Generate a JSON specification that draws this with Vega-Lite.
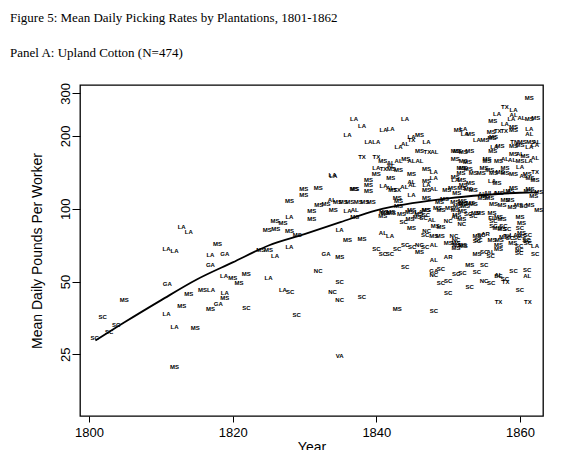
{
  "$schema": "https://vega.github.io/schema/vega-lite/v6.json",
  "autosize": "none",
  "width": 463,
  "height": 331,
  "padding": {"left": 80, "top": 85, "right": 27, "bottom": 34},
  "background": "white",
  "title": {
    "text": ["Figure 5: Mean Daily Picking Rates by Plantations, 1801-1862", "Panel A: Upland Cotton (N=474)"],
    "anchor": "start",
    "frame": "group",
    "dx": -70,
    "offset": 13,
    "baseline": "alphabetic",
    "lineHeight": 35,
    "font": "Liberation Serif",
    "fontSize": 13,
    "fontWeight": "normal",
    "color": "black"
  },
  "config": {
    "view": {"stroke": "black", "strokeWidth": 1.3},
    "axis": {
      "domain": false,
      "grid": false,
      "tickColor": "black",
      "tickSize": 7,
      "labelFont": "Liberation Sans",
      "labelFontSize": 13,
      "labelColor": "black",
      "titleFont": "Liberation Sans",
      "titleFontSize": 14,
      "titleFontWeight": "normal",
      "titleColor": "black"
    }
  },
  "datasets": {
    "pts": [
      {"year": 1800.8, "rate": 29.1, "state": "SC"},
      {"year": 1801.9, "rate": 35.8, "state": "SC"},
      {"year": 1802.8, "rate": 31, "state": "SC"},
      {"year": 1803.8, "rate": 33.1, "state": "SC"},
      {"year": 1804.9, "rate": 42, "state": "MS"},
      {"year": 1810.8, "rate": 68.4, "state": "LA"},
      {"year": 1811.9, "rate": 66.7, "state": "LA"},
      {"year": 1812.9, "rate": 84.2, "state": "LA"},
      {"year": 1813.9, "rate": 80.5, "state": "LA"},
      {"year": 1810.9, "rate": 48.7, "state": "GA"},
      {"year": 1810.8, "rate": 36.6, "state": "LA"},
      {"year": 1811.9, "rate": 32.3, "state": "LA"},
      {"year": 1811.9, "rate": 22.2, "state": "MS"},
      {"year": 1812.9, "rate": 39.7, "state": "MS"},
      {"year": 1813.9, "rate": 44.3, "state": "MS"},
      {"year": 1814.8, "rate": 32, "state": "MS"},
      {"year": 1815.8, "rate": 46.3, "state": "MS"},
      {"year": 1817.0, "rate": 46.3, "state": "LA"},
      {"year": 1816.9, "rate": 38.5, "state": "MS"},
      {"year": 1818.0, "rate": 40.2, "state": "GA"},
      {"year": 1818.9, "rate": 44.7, "state": "LA"},
      {"year": 1818.9, "rate": 42.6, "state": "MS"},
      {"year": 1817.9, "rate": 71.3, "state": "MS"},
      {"year": 1816.9, "rate": 64.4, "state": "LA"},
      {"year": 1818.9, "rate": 64.8, "state": "GA"},
      {"year": 1816.9, "rate": 58.4, "state": "GA"},
      {"year": 1818.8, "rate": 52.6, "state": "LA"},
      {"year": 1820.0, "rate": 51.5, "state": "MS"},
      {"year": 1820.9, "rate": 49.1, "state": "MS"},
      {"year": 1821.9, "rate": 53.5, "state": "MS"},
      {"year": 1821.9, "rate": 39, "state": "SC"},
      {"year": 1823.9, "rate": 67.3, "state": "MS"},
      {"year": 1825.0, "rate": 67.8, "state": "MS"},
      {"year": 1825.9, "rate": 64, "state": "LA"},
      {"year": 1825.0, "rate": 51.8, "state": "LA"},
      {"year": 1827.0, "rate": 46, "state": "LA"},
      {"year": 1828.0, "rate": 45.1, "state": "SC"},
      {"year": 1828.9, "rate": 36.2, "state": "SC"},
      {"year": 1824.8, "rate": 81.5, "state": "MS"},
      {"year": 1826.0, "rate": 82.8, "state": "MS"},
      {"year": 1825.9, "rate": 88.8, "state": "MS"},
      {"year": 1827.0, "rate": 87.5, "state": "MS"},
      {"year": 1827.9, "rate": 80.7, "state": "MS"},
      {"year": 1829.0, "rate": 78.2, "state": "MS"},
      {"year": 1827.9, "rate": 92.3, "state": "LA"},
      {"year": 1827.9, "rate": 69.3, "state": "LA"},
      {"year": 1827.9, "rate": 107.2, "state": "MS"},
      {"year": 1829.9, "rate": 120.2, "state": "MS"},
      {"year": 1829.9, "rate": 113.8, "state": "MS"},
      {"year": 1831.9, "rate": 121.4, "state": "MS"},
      {"year": 1832.0, "rate": 104, "state": "MS"},
      {"year": 1833.0, "rate": 105, "state": "MS"},
      {"year": 1831.0, "rate": 97.7, "state": "MS"},
      {"year": 1831.0, "rate": 91.1, "state": "MS"},
      {"year": 1834.0, "rate": 136.5, "state": "LA"},
      {"year": 1837.0, "rate": 120.2, "state": "MS"},
      {"year": 1833.0, "rate": 65.2, "state": "GA"},
      {"year": 1834.9, "rate": 63, "state": "MS"},
      {"year": 1831.9, "rate": 55.1, "state": "NC"},
      {"year": 1834.9, "rate": 49.6, "state": "SC"},
      {"year": 1833.9, "rate": 45.1, "state": "NC"},
      {"year": 1834.9, "rate": 41.8, "state": "NC"},
      {"year": 1838.0, "rate": 43.2, "state": "SC"},
      {"year": 1834.9, "rate": 24.7, "state": "VA"},
      {"year": 1834.9, "rate": 81.5, "state": "LA"},
      {"year": 1836.0, "rate": 74.1, "state": "MS"},
      {"year": 1838.0, "rate": 75.3, "state": "MS"},
      {"year": 1836.0, "rate": 97.7, "state": "LA"},
      {"year": 1837.0, "rate": 99.3, "state": "AL"},
      {"year": 1834.0, "rate": 99.3, "state": "MS"},
      {"year": 1837.0, "rate": 92.3, "state": "MS"},
      {"year": 1840.0, "rate": 68.3, "state": "SC"},
      {"year": 1840.9, "rate": 65.1, "state": "SC"},
      {"year": 1833.8, "rate": 108.6, "state": "AL"},
      {"year": 1834.6, "rate": 107, "state": "MS"},
      {"year": 1835.4, "rate": 107, "state": "MS"},
      {"year": 1836.3, "rate": 107, "state": "MS"},
      {"year": 1837.5, "rate": 107, "state": "MS"},
      {"year": 1838.4, "rate": 107, "state": "MS"},
      {"year": 1839.3, "rate": 107, "state": "MS"},
      {"year": 1836.9, "rate": 236, "state": "LA"},
      {"year": 1844.0, "rate": 234, "state": "LA"},
      {"year": 1838.0, "rate": 219, "state": "LA"},
      {"year": 1841.0, "rate": 212.6, "state": "LA"},
      {"year": 1842.0, "rate": 214, "state": "LA"},
      {"year": 1836.0, "rate": 201, "state": "LA"},
      {"year": 1844.9, "rate": 199, "state": "LA"},
      {"year": 1846.0, "rate": 202, "state": "MS"},
      {"year": 1844.9, "rate": 192, "state": "TX"},
      {"year": 1847.0, "rate": 189, "state": "LA"},
      {"year": 1838.9, "rate": 189, "state": "LA"},
      {"year": 1840.0, "rate": 189, "state": "LA"},
      {"year": 1843.1, "rate": 180, "state": "LA"},
      {"year": 1844.0, "rate": 185, "state": "AL"},
      {"year": 1846.0, "rate": 173, "state": "MS"},
      {"year": 1847.1, "rate": 171, "state": "TX"},
      {"year": 1848.1, "rate": 172, "state": "AL"},
      {"year": 1838.0, "rate": 164, "state": "TX"},
      {"year": 1840.0, "rate": 164, "state": "TX"},
      {"year": 1840.9, "rate": 157.6, "state": "MS"},
      {"year": 1842.0, "rate": 155, "state": "AL"},
      {"year": 1843.1, "rate": 157.6, "state": "AL"},
      {"year": 1844.1, "rate": 160, "state": "MS"},
      {"year": 1844.9, "rate": 157.6, "state": "AL"},
      {"year": 1846.0, "rate": 157.6, "state": "AL"},
      {"year": 1840.0, "rate": 148, "state": "LA"},
      {"year": 1841.0, "rate": 145.5, "state": "TX"},
      {"year": 1842.0, "rate": 150, "state": "AL"},
      {"year": 1843.1, "rate": 145, "state": "MS"},
      {"year": 1840.0, "rate": 138.7, "state": "MS"},
      {"year": 1842.0, "rate": 134.4, "state": "MS"},
      {"year": 1844.9, "rate": 139.7, "state": "MS"},
      {"year": 1847.0, "rate": 145.5, "state": "MS"},
      {"year": 1848.0, "rate": 142.5, "state": "LA"},
      {"year": 1833.9, "rate": 137.4, "state": "LA"},
      {"year": 1838.9, "rate": 132, "state": "MS"},
      {"year": 1838.9, "rate": 126, "state": "MS"},
      {"year": 1836.9, "rate": 120.2, "state": "MS"},
      {"year": 1838.9, "rate": 118.3, "state": "MS"},
      {"year": 1844.9, "rate": 113.8, "state": "LA"},
      {"year": 1844.9, "rate": 129.4, "state": "AL"},
      {"year": 1847.0, "rate": 130, "state": "MS"},
      {"year": 1847.0, "rate": 126, "state": "LA"},
      {"year": 1847.0, "rate": 99.3, "state": "MS"},
      {"year": 1844.9, "rate": 99.3, "state": "MS"},
      {"year": 1845.9, "rate": 97.2, "state": "LA"},
      {"year": 1841.0, "rate": 97.2, "state": "MS"},
      {"year": 1842.0, "rate": 97.2, "state": "MS"},
      {"year": 1843.1, "rate": 107.5, "state": "MS"},
      {"year": 1843.1, "rate": 102.5, "state": "MS"},
      {"year": 1842.1, "rate": 146, "state": "MS"},
      {"year": 1851.8, "rate": 148, "state": "MS"},
      {"year": 1851.8, "rate": 141, "state": "MS"},
      {"year": 1848.0, "rate": 134, "state": "LA"},
      {"year": 1851.0, "rate": 135, "state": "MS"},
      {"year": 1851.0, "rate": 131, "state": "LA"},
      {"year": 1851.9, "rate": 131, "state": "MS"},
      {"year": 1845.0, "rate": 125.3, "state": "AL"},
      {"year": 1841.9, "rate": 122, "state": "AL"},
      {"year": 1842.3, "rate": 120, "state": "MS"},
      {"year": 1842.9, "rate": 120, "state": "TX"},
      {"year": 1843.9, "rate": 123, "state": "AL"},
      {"year": 1841.0, "rate": 124, "state": "LA"},
      {"year": 1847.0, "rate": 120, "state": "MS"},
      {"year": 1848.0, "rate": 121, "state": "AL"},
      {"year": 1849.8, "rate": 120, "state": "MS"},
      {"year": 1850.6, "rate": 122, "state": "MS"},
      {"year": 1851.9, "rate": 122, "state": "MS"},
      {"year": 1851.2, "rate": 116, "state": "MS"},
      {"year": 1847.0, "rate": 111, "state": "MS"},
      {"year": 1842.9, "rate": 111, "state": "MS"},
      {"year": 1849.5, "rate": 110, "state": "MS"},
      {"year": 1848.8, "rate": 107, "state": "MS"},
      {"year": 1850.9, "rate": 107, "state": "MS"},
      {"year": 1852.0, "rate": 108, "state": "MS"},
      {"year": 1852.0, "rate": 105, "state": "MS"},
      {"year": 1841.2, "rate": 96, "state": "MS"},
      {"year": 1842.1, "rate": 96, "state": "MS"},
      {"year": 1840.9, "rate": 93, "state": "MS"},
      {"year": 1843.5, "rate": 95, "state": "MS"},
      {"year": 1844.6, "rate": 97, "state": "MS"},
      {"year": 1845.9, "rate": 95, "state": "MS"},
      {"year": 1846.9, "rate": 99, "state": "MS"},
      {"year": 1846.9, "rate": 94, "state": "SC"},
      {"year": 1848.5, "rate": 101, "state": "MS"},
      {"year": 1849.0, "rate": 99, "state": "MS"},
      {"year": 1850.2, "rate": 101, "state": "MS"},
      {"year": 1851.3, "rate": 103, "state": "MS"},
      {"year": 1851.0, "rate": 99, "state": "MS"},
      {"year": 1852.0, "rate": 98, "state": "MS"},
      {"year": 1844.7, "rate": 91.1, "state": "MS"},
      {"year": 1845.7, "rate": 92.3, "state": "MS"},
      {"year": 1846.6, "rate": 91.8, "state": "SC"},
      {"year": 1847.7, "rate": 90, "state": "AL"},
      {"year": 1851.2, "rate": 94, "state": "MS"},
      {"year": 1851.0, "rate": 92.3, "state": "AL"},
      {"year": 1850.0, "rate": 89, "state": "NC"},
      {"year": 1851.9, "rate": 91, "state": "MS"},
      {"year": 1843.8, "rate": 88.3, "state": "SC"},
      {"year": 1844.9, "rate": 83.4, "state": "MS"},
      {"year": 1847.0, "rate": 81, "state": "NC"},
      {"year": 1846.8, "rate": 78, "state": "SC"},
      {"year": 1848.2, "rate": 85, "state": "MS"},
      {"year": 1849.0, "rate": 84, "state": "MS"},
      {"year": 1848.0, "rate": 77, "state": "MS"},
      {"year": 1848.9, "rate": 77, "state": "MS"},
      {"year": 1850.8, "rate": 77, "state": "NC"},
      {"year": 1851.1, "rate": 74, "state": "NC"},
      {"year": 1851.2, "rate": 71, "state": "MS"},
      {"year": 1840.9, "rate": 79.5, "state": "AL"},
      {"year": 1841.9, "rate": 77, "state": "LA"},
      {"year": 1844.0, "rate": 71, "state": "SC"},
      {"year": 1845.0, "rate": 69.6, "state": "SC"},
      {"year": 1846.0, "rate": 71, "state": "NC"},
      {"year": 1846.8, "rate": 69.6, "state": "SC"},
      {"year": 1848.0, "rate": 70.5, "state": "AL"},
      {"year": 1846.0, "rate": 66, "state": "MS"},
      {"year": 1841.9, "rate": 65, "state": "SC"},
      {"year": 1842.9, "rate": 68, "state": "SC"},
      {"year": 1850.0, "rate": 72, "state": "MS"},
      {"year": 1851.1, "rate": 72, "state": "MS"},
      {"year": 1852.0, "rate": 70.5, "state": "MS"},
      {"year": 1851.1, "rate": 69, "state": "MS"},
      {"year": 1854.0, "rate": 73.4, "state": "SC"},
      {"year": 1857.0, "rate": 70.5, "state": "MS"},
      {"year": 1857.0, "rate": 68, "state": "MS"},
      {"year": 1854.0, "rate": 65, "state": "MS"},
      {"year": 1855.0, "rate": 66, "state": "SC"},
      {"year": 1855.9, "rate": 66, "state": "AL"},
      {"year": 1855.9, "rate": 63.6, "state": "SC"},
      {"year": 1859.0, "rate": 72.3, "state": "MS"},
      {"year": 1859.9, "rate": 70, "state": "SC"},
      {"year": 1859.9, "rate": 67.3, "state": "NC"},
      {"year": 1859.9, "rate": 65.5, "state": "SC"},
      {"year": 1861.0, "rate": 73.4, "state": "SC"},
      {"year": 1862.1, "rate": 70, "state": "LA"},
      {"year": 1862.1, "rate": 65.3, "state": "SC"},
      {"year": 1848.0, "rate": 61.6, "state": "AL"},
      {"year": 1850.0, "rate": 63, "state": "AR"},
      {"year": 1844.0, "rate": 57.3, "state": "SC"},
      {"year": 1853.0, "rate": 58.7, "state": "MS"},
      {"year": 1855.0, "rate": 58.7, "state": "SC"},
      {"year": 1848.0, "rate": 55.1, "state": "GA"},
      {"year": 1849.0, "rate": 56.4, "state": "SC"},
      {"year": 1848.0, "rate": 53, "state": "NC"},
      {"year": 1851.1, "rate": 53.8, "state": "SC"},
      {"year": 1852.0, "rate": 54.3, "state": "SC"},
      {"year": 1854.0, "rate": 54.8, "state": "SC"},
      {"year": 1857.0, "rate": 53.4, "state": "AL"},
      {"year": 1857.0, "rate": 52.6, "state": "SC"},
      {"year": 1857.9, "rate": 51.3, "state": "SC"},
      {"year": 1858.0, "rate": 49.7, "state": "TX"},
      {"year": 1859.1, "rate": 55.1, "state": "SC"},
      {"year": 1861.0, "rate": 56, "state": "SC"},
      {"year": 1861.0, "rate": 52.6, "state": "AL"},
      {"year": 1849.0, "rate": 49.4, "state": "SC"},
      {"year": 1850.0, "rate": 50.2, "state": "SC"},
      {"year": 1853.0, "rate": 47.6, "state": "SC"},
      {"year": 1855.0, "rate": 50.2, "state": "NC"},
      {"year": 1856.0, "rate": 49.4, "state": "SC"},
      {"year": 1860.0, "rate": 46.3, "state": "SC"},
      {"year": 1850.0, "rate": 44.9, "state": "SC"},
      {"year": 1857.0, "rate": 41, "state": "TX"},
      {"year": 1861.1, "rate": 41.2, "state": "TX"},
      {"year": 1842.9, "rate": 38.6, "state": "MS"},
      {"year": 1848.0, "rate": 37.6, "state": "SC"},
      {"year": 1861.3, "rate": 287, "state": "MS"},
      {"year": 1857.9, "rate": 263, "state": "TX"},
      {"year": 1859.1, "rate": 256, "state": "LA"},
      {"year": 1856.8, "rate": 247, "state": "LA"},
      {"year": 1859.1, "rate": 245, "state": "AL"},
      {"year": 1858.8, "rate": 235, "state": "LA"},
      {"year": 1860.2, "rate": 237, "state": "AL"},
      {"year": 1861.3, "rate": 234, "state": "MS"},
      {"year": 1862.2, "rate": 237, "state": "MS"},
      {"year": 1856.2, "rate": 230, "state": "MS"},
      {"year": 1857.9, "rate": 225, "state": "LA"},
      {"year": 1859.1, "rate": 217, "state": "MS"},
      {"year": 1859.1, "rate": 212, "state": "MS"},
      {"year": 1861.3, "rate": 214, "state": "LA"},
      {"year": 1861.3, "rate": 204, "state": "AL"},
      {"year": 1856.0, "rate": 207, "state": "MS"},
      {"year": 1856.9, "rate": 210, "state": "TX"},
      {"year": 1857.8, "rate": 210, "state": "TX"},
      {"year": 1856.3, "rate": 198, "state": "MS"},
      {"year": 1851.4, "rate": 212, "state": "MS"},
      {"year": 1852.1, "rate": 214, "state": "LA"},
      {"year": 1852.3, "rate": 204, "state": "LA"},
      {"year": 1853.1, "rate": 204, "state": "MS"},
      {"year": 1854.0, "rate": 193, "state": "LA"},
      {"year": 1855.1, "rate": 193, "state": "MS"},
      {"year": 1856.1, "rate": 196, "state": "MS"},
      {"year": 1851.3, "rate": 173, "state": "MS"},
      {"year": 1852.1, "rate": 171, "state": "MS"},
      {"year": 1853.0, "rate": 174, "state": "MS"},
      {"year": 1856.4, "rate": 180, "state": "LA"},
      {"year": 1857.2, "rate": 181, "state": "MS"},
      {"year": 1856.2, "rate": 173, "state": "MS"},
      {"year": 1859.2, "rate": 188, "state": "TN"},
      {"year": 1860.3, "rate": 188, "state": "MS"},
      {"year": 1861.5, "rate": 188, "state": "MS"},
      {"year": 1860.0, "rate": 183, "state": "MS"},
      {"year": 1859.1, "rate": 181, "state": "MS"},
      {"year": 1861.3, "rate": 180, "state": "LA"},
      {"year": 1862.3, "rate": 188, "state": "AL"},
      {"year": 1862.1, "rate": 183, "state": "LA"},
      {"year": 1859.1, "rate": 169, "state": "MS"},
      {"year": 1860.0, "rate": 169, "state": "AL"},
      {"year": 1860.7, "rate": 166, "state": "MS"},
      {"year": 1862.1, "rate": 162, "state": "AL"},
      {"year": 1855.4, "rate": 161, "state": "MS"},
      {"year": 1855.4, "rate": 158, "state": "MS"},
      {"year": 1857.0, "rate": 158, "state": "MS"},
      {"year": 1857.9, "rate": 160, "state": "AL"},
      {"year": 1858.9, "rate": 159, "state": "AL"},
      {"year": 1860.0, "rate": 157, "state": "MS"},
      {"year": 1861.2, "rate": 157, "state": "LA"},
      {"year": 1852.1, "rate": 157, "state": "MS"},
      {"year": 1852.7, "rate": 156, "state": "MS"},
      {"year": 1851.0, "rate": 173, "state": "MS"},
      {"year": 1851.0, "rate": 160, "state": "MS"},
      {"year": 1852.1, "rate": 148, "state": "MS"},
      {"year": 1852.8, "rate": 145.5, "state": "MS"},
      {"year": 1853.5, "rate": 141, "state": "MS"},
      {"year": 1854.6, "rate": 141, "state": "MS"},
      {"year": 1855.0, "rate": 148, "state": "MS"},
      {"year": 1855.8, "rate": 144, "state": "MS"},
      {"year": 1856.3, "rate": 141, "state": "MS"},
      {"year": 1857.2, "rate": 142, "state": "MS"},
      {"year": 1857.9, "rate": 148, "state": "MS"},
      {"year": 1857.9, "rate": 141, "state": "MS"},
      {"year": 1860.0, "rate": 149, "state": "LA"},
      {"year": 1862.1, "rate": 142, "state": "TX"},
      {"year": 1859.1, "rate": 139, "state": "MS"},
      {"year": 1860.5, "rate": 136.5, "state": "AL"},
      {"year": 1861.0, "rate": 139, "state": "MS"},
      {"year": 1861.4, "rate": 134.4, "state": "MS"},
      {"year": 1862.1, "rate": 132, "state": "MS"},
      {"year": 1856.1, "rate": 130, "state": "LA"},
      {"year": 1856.8, "rate": 128, "state": "MS"},
      {"year": 1852.1, "rate": 126, "state": "MS"},
      {"year": 1853.1, "rate": 128, "state": "MS"},
      {"year": 1852.8, "rate": 121, "state": "MS"},
      {"year": 1853.5, "rate": 120, "state": "MS"},
      {"year": 1854.7, "rate": 115.4, "state": "AL"},
      {"year": 1855.5, "rate": 116, "state": "AL"},
      {"year": 1856.3, "rate": 116.6, "state": "LA"},
      {"year": 1857.1, "rate": 116.6, "state": "MS"},
      {"year": 1858.2, "rate": 118.3, "state": "LA"},
      {"year": 1858.6, "rate": 119, "state": "MS"},
      {"year": 1859.1, "rate": 122, "state": "MS"},
      {"year": 1861.4, "rate": 121, "state": "MS"},
      {"year": 1861.1, "rate": 118.3, "state": "MS"},
      {"year": 1862.6, "rate": 117.6, "state": "MS"},
      {"year": 1861.9, "rate": 112.8, "state": "MS"},
      {"year": 1854.7, "rate": 111, "state": "MS"},
      {"year": 1855.8, "rate": 111, "state": "MS"},
      {"year": 1855.2, "rate": 112.8, "state": "MS"},
      {"year": 1852.1, "rate": 106, "state": "MS"},
      {"year": 1853.1, "rate": 106, "state": "MS"},
      {"year": 1852.4, "rate": 102.5, "state": "MS"},
      {"year": 1853.5, "rate": 105, "state": "MS"},
      {"year": 1856.3, "rate": 105, "state": "MS"},
      {"year": 1857.5, "rate": 104, "state": "MS"},
      {"year": 1857.9, "rate": 109, "state": "MS"},
      {"year": 1858.6, "rate": 109, "state": "MS"},
      {"year": 1858.9, "rate": 101.5, "state": "MS"},
      {"year": 1859.8, "rate": 104, "state": "MS"},
      {"year": 1860.5, "rate": 102.5, "state": "SC"},
      {"year": 1861.4, "rate": 104, "state": "MS"},
      {"year": 1862.6, "rate": 99.3, "state": "MS"},
      {"year": 1852.8, "rate": 94.7, "state": "SC"},
      {"year": 1853.8, "rate": 96, "state": "MS"},
      {"year": 1854.5, "rate": 96, "state": "MS"},
      {"year": 1853.5, "rate": 93, "state": "SC"},
      {"year": 1856.1, "rate": 96, "state": "MS"},
      {"year": 1857.0, "rate": 92.3, "state": "MS"},
      {"year": 1856.1, "rate": 91.8, "state": "FL"},
      {"year": 1856.3, "rate": 88.9, "state": "SC"},
      {"year": 1857.5, "rate": 90.3, "state": "MS"},
      {"year": 1860.0, "rate": 92.3, "state": "MS"},
      {"year": 1860.2, "rate": 87.5, "state": "MS"},
      {"year": 1857.7, "rate": 84.7, "state": "SC"},
      {"year": 1856.3, "rate": 84.7, "state": "SC"},
      {"year": 1856.8, "rate": 83.4, "state": "MS"},
      {"year": 1857.5, "rate": 82.1, "state": "MS"},
      {"year": 1858.2, "rate": 82.1, "state": "SC"},
      {"year": 1860.0, "rate": 83.4, "state": "SC"},
      {"year": 1860.2, "rate": 79.5, "state": "MS"},
      {"year": 1861.1, "rate": 78.2, "state": "SC"},
      {"year": 1851.9, "rate": 86.5, "state": "NC"},
      {"year": 1854.0, "rate": 77, "state": "MS"},
      {"year": 1854.6, "rate": 78.2, "state": "SC"},
      {"year": 1855.2, "rate": 78.8, "state": "AR"},
      {"year": 1854.2, "rate": 74.6, "state": "SC"},
      {"year": 1856.1, "rate": 74, "state": "MS"},
      {"year": 1857.1, "rate": 74.6, "state": "MS"},
      {"year": 1857.7, "rate": 76.3, "state": "MS"},
      {"year": 1858.2, "rate": 77, "state": "TX"},
      {"year": 1858.6, "rate": 75.8, "state": "SC"},
      {"year": 1859.1, "rate": 78.2, "state": "LA"},
      {"year": 1859.6, "rate": 75.8, "state": "SC"},
      {"year": 1860.2, "rate": 77, "state": "MS"},
      {"year": 1860.9, "rate": 74.6, "state": "SC"},
      {"year": 1861.1, "rate": 72.3, "state": "SC"},
      {"year": 1852.1, "rate": 70, "state": "MS"}
    ],
    "fit": [
      {"year": 1800.9, "rate": 28.5},
      {"year": 1805, "rate": 34},
      {"year": 1810, "rate": 41.8},
      {"year": 1815, "rate": 51},
      {"year": 1820, "rate": 60},
      {"year": 1825, "rate": 70.5},
      {"year": 1830, "rate": 78.5},
      {"year": 1835, "rate": 88},
      {"year": 1840, "rate": 98.5},
      {"year": 1845, "rate": 105.5},
      {"year": 1850, "rate": 110.5},
      {"year": 1855, "rate": 114},
      {"year": 1860, "rate": 116.5},
      {"year": 1862.5, "rate": 117}
    ]
  },
  "encoding": {
    "x": {
      "field": "year",
      "type": "quantitative",
      "scale": {"domain": [1798.75, 1863.2], "nice": false, "zero": false},
      "axis": {"values": [1800, 1820, 1840, 1860], "title": "Year", "tickSize": 6, "labelPadding": 4, "titlePadding": 1, "format": "d", "labelFlush": false}
    },
    "y": {
      "field": "rate",
      "type": "quantitative",
      "scale": {"type": "log", "domain": [13.9, 325], "nice": false},
      "axis": {
        "values": [25, 50, 100, 200, 300],
        "title": "Mean Daily Pounds Per Worker",
        "tickSize": 8,
        "labelAngle": -90,
        "labelAlign": "center",
        "labelBaseline": "alphabetic",
        "labelPadding": 3,
        "titlePadding": 15,
        "labelFlush": false,
        "format": "d"
      }
    }
  },
  "layer": [
    {
      "data": {"name": "pts"},
      "mark": {"type": "text", "font": "Liberation Sans", "fontSize": 6, "fontWeight": "bold", "color": "black", "align": "center", "baseline": "middle"},
      "encoding": {"text": {"field": "state", "type": "nominal"}}
    },
    {
      "data": {"name": "fit"},
      "mark": {"type": "line", "color": "black", "strokeWidth": 1.8, "interpolate": "monotone"},
      "encoding": {}
    }
  ]
}
